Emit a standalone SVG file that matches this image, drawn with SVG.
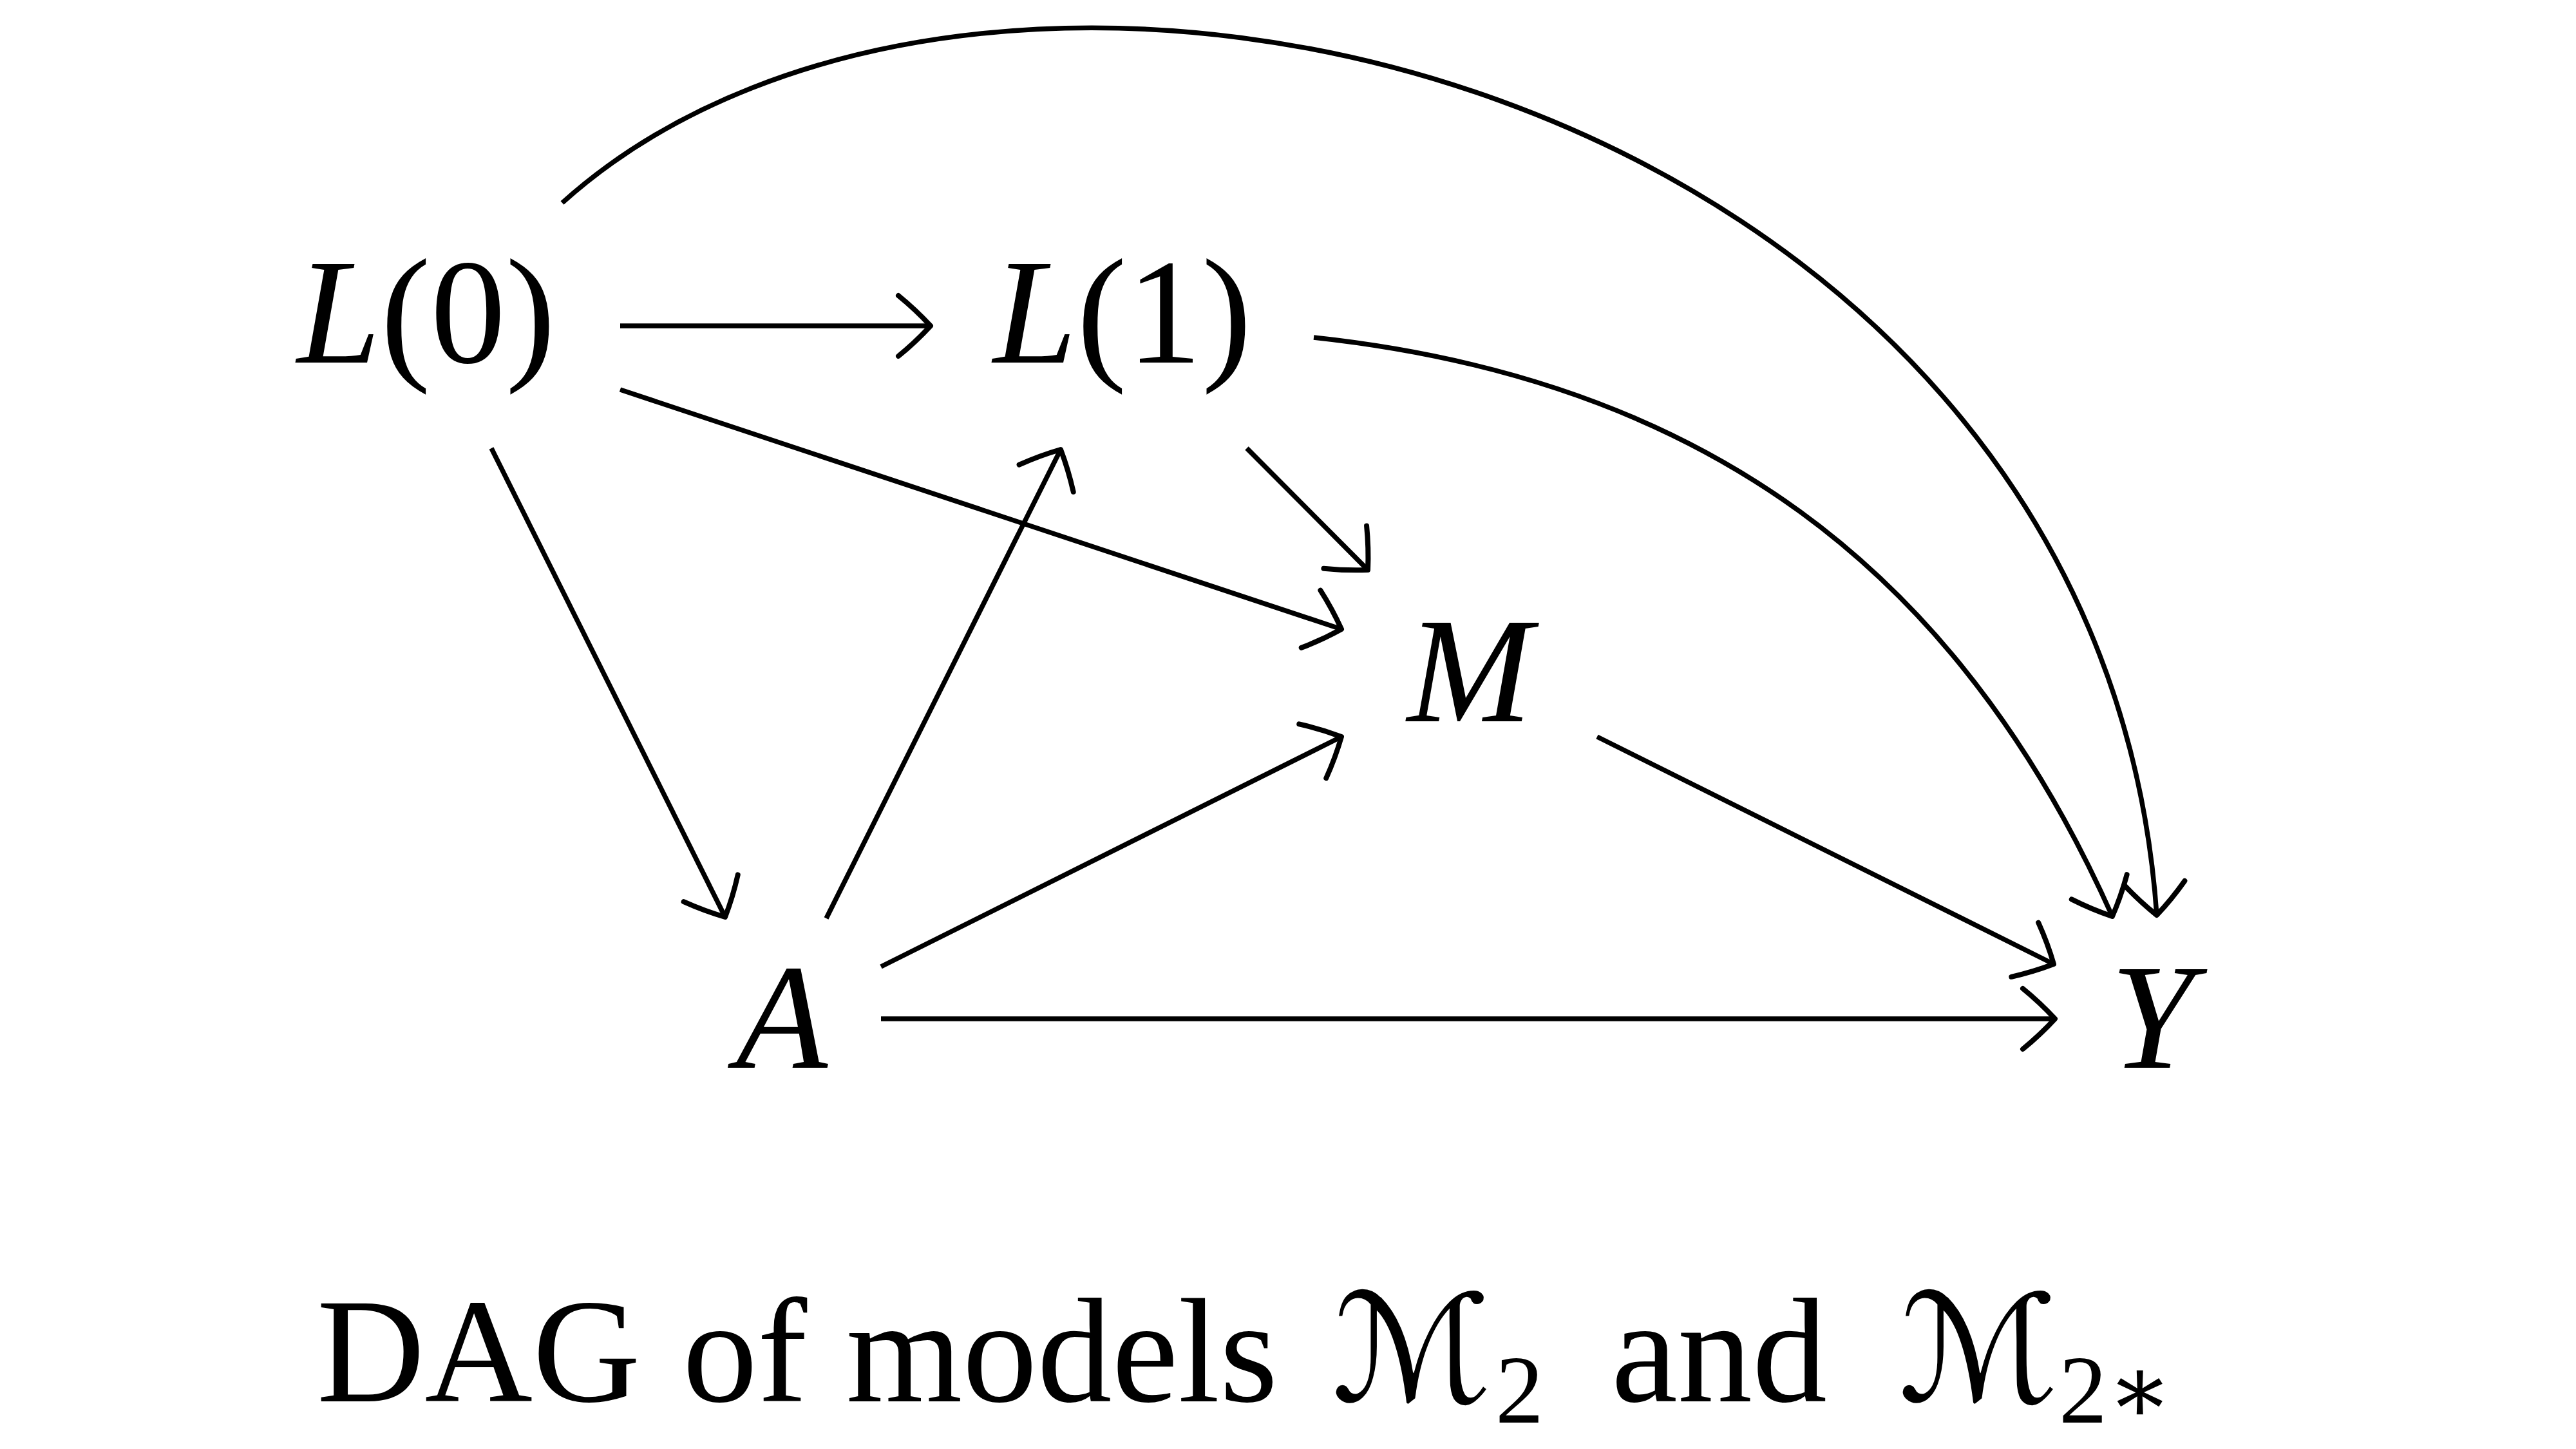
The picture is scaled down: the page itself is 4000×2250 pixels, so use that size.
<svg xmlns="http://www.w3.org/2000/svg" width="4000" height="2250" viewBox="0 0 4000 2250">
<style>
.n { font-family: "Liberation Serif", "DejaVu Serif", serif; font-size: 233px; fill: #000; }
.i { font-style: italic; }
.e { fill: none; stroke: #000; stroke-width: 7.5; marker-end: url(#arr); }
.cap { font-family: "Liberation Serif", "DejaVu Serif", "DejaVu Sans", serif; font-size: 232px; fill: #000; }
.sub { font-size: 150px; }
</style>
<defs>
<marker id="arr" markerUnits="userSpaceOnUse" orient="auto" viewBox="-80 -60 100 120" markerWidth="100" markerHeight="120" refX="0" refY="0" overflow="visible">
<path d="M-50 -47 Q-23 -25 0 0 Q-23 25 -50 47" fill="none" stroke="#000" stroke-width="8" stroke-linecap="round" stroke-linejoin="round"/>
</marker>
</defs>
<rect width="4000" height="2250" fill="#fff"/>
<g id="connectors">
<path class="e" d="M963 506 L1445 506"/>
<path class="e" d="M763 696 L1126 1424"/>
<path class="e" d="M1283 1426 L1647 698"/>
<path class="e" d="M963 605 L2083 977"/>
<path class="e" d="M1936 696 L2124 885"/>
<path class="e" d="M1368 1501 L2083 1144"/>
<path class="e" d="M1368 1582 L3191 1582"/>
<path class="e" d="M2480 1144 L3189 1497"/>
<path class="e" d="M2040 524 C2635 588 3036 875 3280 1423"/>
<path class="e" d="M873 315 C1542 -287 3258 124 3349 1421"/>
</g>
<g id="L0"><text class="n" x="662" y="563" text-anchor="middle"><tspan class="i">L</tspan>(0)</text></g>
<g id="L1"><text class="n" x="1743" y="563" text-anchor="middle"><tspan class="i">L</tspan>(1)</text></g>
<g id="M"><text class="n i" x="2282" y="1120" text-anchor="middle">M</text></g>
<g id="A"><text class="n i" x="1214" y="1658" text-anchor="middle">A</text></g>
<g id="Y"><text class="n i" x="3342" y="1658" text-anchor="middle">Y</text></g>
<g id="caption"><text class="cap" y="2176"><tspan x="492">DAG</tspan> <tspan x="1060">of</tspan> <tspan x="1314">models</tspan> <tspan x="2068">ℳ</tspan><tspan class="sub" x="2322" y="2209">2</tspan> <tspan x="2502" y="2176">and</tspan> <tspan x="2948">ℳ</tspan><tspan class="sub" x="3197" y="2209">2∗</tspan></text></g>
</svg>
